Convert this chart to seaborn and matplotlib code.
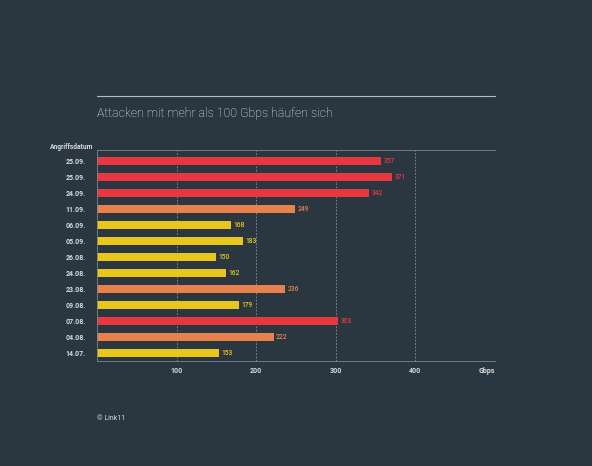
import matplotlib
matplotlib.use("Agg")
import matplotlib.pyplot as plt
import seaborn as sns
import pandas as pd
from matplotlib.lines import Line2D

dates = ['25.09.', '25.09.', '24.09.', '11.09.', '06.09.', '05.09.', '26.08.',
         '24.08.', '23.08.', '09.08.', '07.08.', '04.08.', '14.07.']
gbps = [357, 371, 342, 249, 168, 183, 150, 162, 236, 179, 303, 222, 153]
xticks = [100, 200, 300, 400]

BG = '#2b3740'
RED = '#e8383f'
ORANGE = '#e8814b'
YELLOW = '#e8c61a'
TXT = '#d6dadc'
GRID = '#8a9399'

def level(v):
    if v >= 300:
        return 'hoch'
    if v >= 200:
        return 'mittel'
    return 'niedrig'

df = pd.DataFrame({
    'idx': [str(i) for i in range(len(dates))],
    'Gbps': gbps,
    'Stufe': [level(v) for v in gbps],
})
palette = {'hoch': RED, 'mittel': ORANGE, 'niedrig': YELLOW}

sns.set_theme(style='dark')
plt.rcParams['font.family'] = ['Roboto', 'DejaVu Sans']

fig = plt.figure(figsize=(5.92, 4.66), dpi=100, facecolor=BG)
ax = fig.add_axes([97/592, 1-361/466, 398/592, 211/466])
ax.set_facecolor(BG)

sns.barplot(data=df, x='Gbps', y='idx', hue='Stufe', palette=palette,
            orient='h', dodge=False, width=0.52, legend=False, ax=ax,
            saturation=1, order=df['idx'].tolist(), linewidth=0,
            edgecolor='none')

ax.set_xlim(0, 500)
ax.set_ylim(12.5, -0.6875)

for xv in xticks:
    ax.axvline(xv, color=GRID, lw=0.6, ls=(0, (2, 2)), zorder=0)

for i, v in enumerate(gbps):
    ax.text(v + 3, i, str(v), va='center', ha='left', fontsize=4.8,
            color=palette[level(v)], fontweight='medium')

ax.set_yticks(range(len(dates)))
ax.set_yticklabels(dates)
ax.set_xticks(xticks)
ax.set_xticklabels([str(t) for t in xticks])
ax.tick_params(axis='both', length=0, labelsize=5, colors=TXT)
ax.tick_params(axis='y', pad=8)
ax.tick_params(axis='x', pad=4)
for lab in ax.get_xticklabels() + ax.get_yticklabels():
    lab.set_fontweight('bold')
ax.set_xlabel('')
ax.set_ylabel('')
ax.grid(False)

ax.spines['right'].set_visible(False)
for s in ['top', 'bottom', 'left']:
    ax.spines[s].set_visible(True)
    ax.spines[s].set_color('#7d868c')
    ax.spines[s].set_linewidth(0.6)

ax.annotate('Gbps', xy=(490, 0), xycoords=('data', 'axes fraction'),
            xytext=(0, -4), textcoords='offset points', ha='center', va='top',
            fontsize=5, color=TXT, fontweight='bold')

fig.text(93/592, 1-147/466, 'Angriffsdatum', ha='right', va='center',
         fontsize=4.8, color=TXT, fontweight='bold')
fig.text(97/592, 1-113/466, 'Attacken mit mehr als 100 Gbps häufen sich',
         ha='left', va='center', fontsize=8.9, color='#f0f2f3', fontweight='light')
fig.add_artist(Line2D([97/592, 495/592], [1-96/466, 1-96/466],
                      transform=fig.transFigure, color='#b8bec2', lw=0.8))
fig.text(97/592, 1-418/466, '© Link11', ha='left', va='center',
         fontsize=5, color=TXT)

fig.savefig('out.png', dpi=100, facecolor=BG)
